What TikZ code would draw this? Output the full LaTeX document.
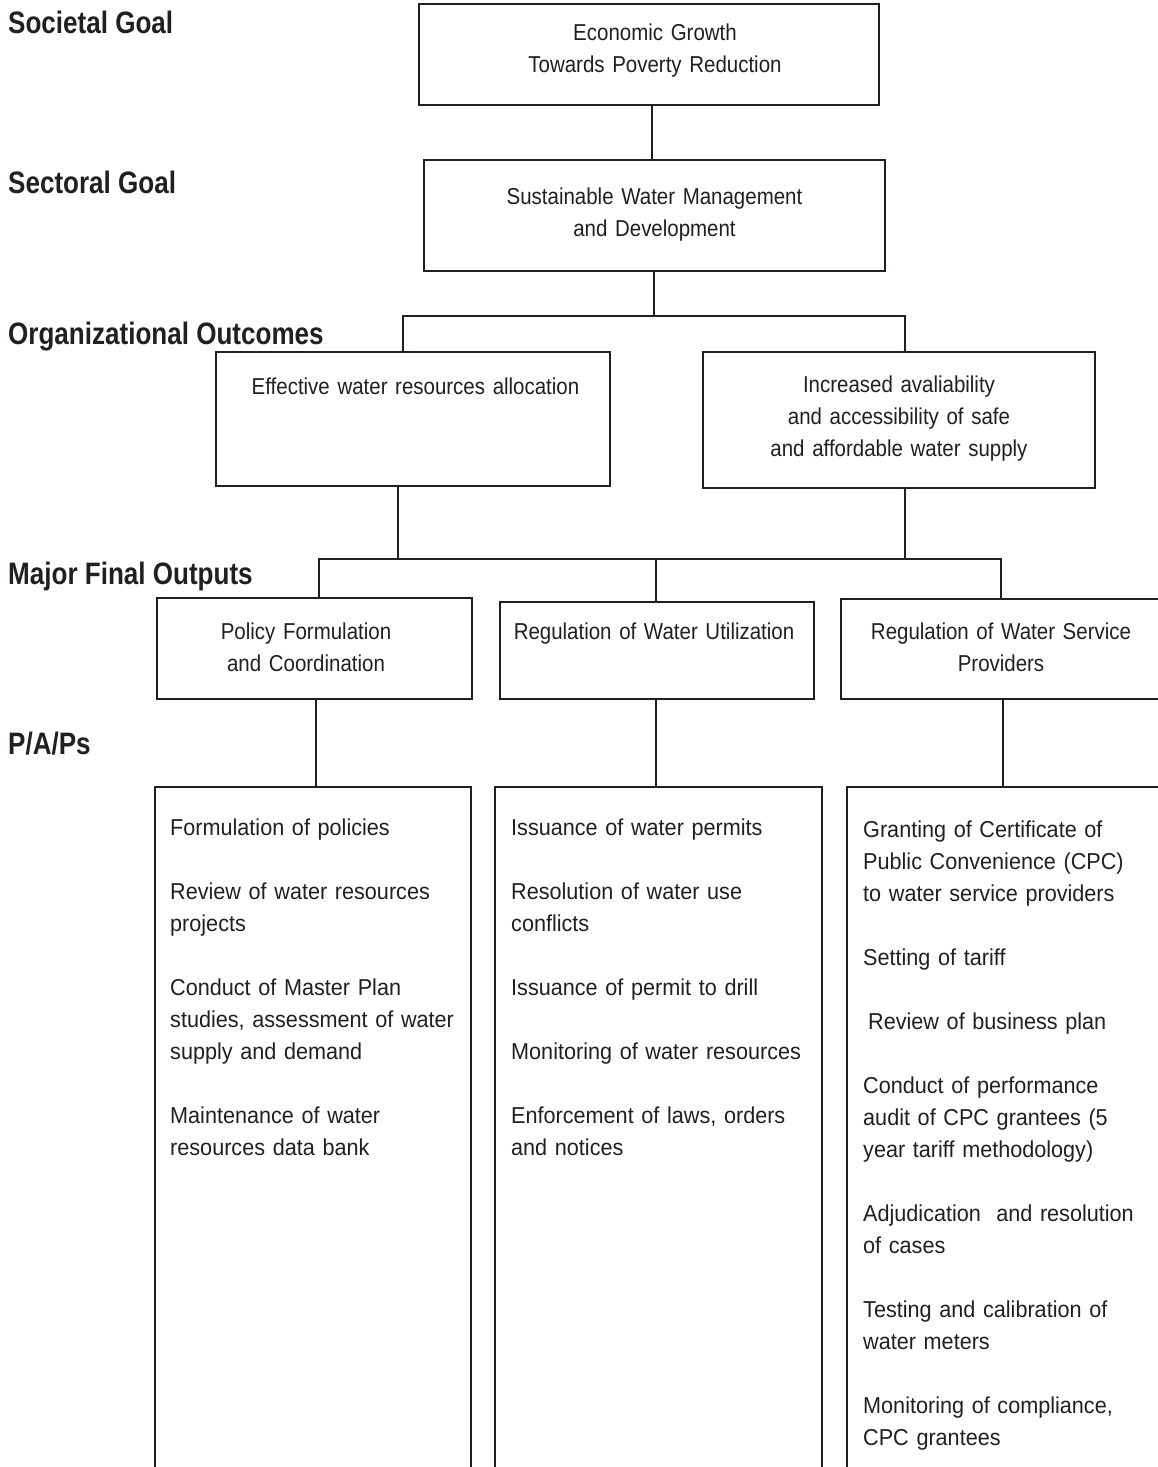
\documentclass[tikz,border=0pt]{standalone}
\usepackage{fontspec}
\setmainfont{Liberation Sans}
\newfontfamily\lblfont[FakeStretch=0.84]{Liberation Sans}
\newfontfamily\boxfont[FakeStretch=0.89]{Liberation Sans}
\newfontfamily\itemfont[FakeStretch=0.94]{Liberation Sans}
\definecolor{ink}{HTML}{231F20}
\tikzset{
  box/.style={draw=ink, line width=1.3pt, rectangle, inner sep=0pt},
  conn/.style={draw=ink, line width=1.1pt},
  lbl/.style={anchor=base west, inner sep=0pt, text=ink, font=\lblfont\bfseries\fontsize{31}{36}\selectfont},
  btxt/.style={anchor=base, inner sep=0pt, text=ink, align=center, text width=420pt, font=\boxfont\fontsize{23}{32}\selectfont},
  itxt/.style={anchor=base west, inner sep=0pt, text=ink, align=left, text width=420pt, font=\itemfont\fontsize{23}{32}\selectfont}
}
\begin{document}
\begin{tikzpicture}[x=1pt,y=-1pt]
\useasboundingbox[fill=white] (0,0) rectangle (1158,1467);

% level labels
\node[lbl] (lsoc) at (8,33) {Societal Goal};
\node[lbl] (lsec) at (8,193) {Sectoral Goal};
\node[lbl] (lorg) at (8,344) {Organizational Outcomes};
\node[lbl] (lmfo) at (8,584) {Major Final Outputs};
\node[lbl] (lpap) at (8,754) {P/A/Ps};

% boxes
\node[box, minimum width=460pt, minimum height=101pt] (b1) at (649,54.5) {};
\node[box, minimum width=461pt, minimum height=111pt] (b2) at (654.5,215.5) {};
\node[box, minimum width=394pt, minimum height=134pt] (b3) at (413,419) {};
\node[box, minimum width=392pt, minimum height=136pt] (b4) at (899,420) {};
\node[box, minimum width=315pt, minimum height=101pt] (b5) at (314.5,648.5) {};
\node[box, minimum width=314pt, minimum height=97pt] (b6) at (657,650.5) {};
\node[box, minimum width=329pt, minimum height=100pt] (b7) at (1005.5,649) {};
\node[box, minimum width=316pt, minimum height=693pt] (b8) at (313,1133.5) {};
\node[box, minimum width=327pt, minimum height=693pt] (b9) at (658.5,1133.5) {};
\node[box, minimum width=323pt, minimum height=693pt] (b10) at (1008.5,1133.5) {};

% box texts
\node[btxt] (t1) at (655,40) {Economic Growth\\Towards Poverty Reduction};
\node[btxt] (t2) at (654.5,204) {Sustainable Water Management\\and Development};
\node[btxt] (t3) at (415.5,394) {Effective water resources allocation};
\node[btxt] (t4) at (899,392) {Increased avaliability\\and accessibility of safe\\and affordable water supply};
\node[btxt] (t5) at (306,639) {Policy Formulation\\and Coordination};
\node[btxt] (t6) at (654,639) {Regulation of Water Utilization};
\node[btxt] (t7) at (1001,639) {Regulation of Water Service\\Providers};

% item lists
\node[itxt] (i8) at (170,835) {Formulation of policies\\[32pt]
Review of water resources\\projects\\[32pt]
Conduct of Master Plan\\studies, assessment of water\\supply and demand\\[32pt]
Maintenance of water\\resources data bank};
\node[itxt] (i9) at (511,835) {Issuance of water permits\\[32pt]
Resolution of water use\\conflicts\\[32pt]
Issuance of permit to drill\\[32pt]
Monitoring of water resources\\[32pt]
Enforcement of laws, orders\\and notices};
\node[itxt] (i10) at (863,837) {Granting of Certificate of\\Public Convenience (CPC)\\to water service providers\\[32pt]
Setting of tariff\\[32pt]
\hspace*{5pt}Review of business plan\\[32pt]
Conduct of performance\\audit of CPC grantees (5\\year tariff methodology)\\[32pt]
Adjudication\ \ and resolution\\of cases\\[32pt]
Testing and calibration of\\water meters\\[32pt]
Monitoring of compliance,\\CPC grantees};

% connectors
\coordinate (j1) at (654,316);
\coordinate (j2) at (656,559);
\draw[conn] ([xshift=3pt]b1.south) -- ([xshift=3pt]b1.south |- b2.north);
\draw[conn] (b2.south -| j1) -- (j1);
\draw[conn] (j1) -| ([xshift=-10pt]b3.north);
\draw[conn] (j1) -| ([xshift=6pt]b4.north);
\draw[conn] ([xshift=-15pt]b3.south) |- (j2);
\draw[conn] ([xshift=6pt]b4.south) |- (j2);
\draw[conn] (j2) -| ([xshift=4.5pt]b5.north);
\draw[conn] (j2) -- (j2 |- b6.north);
\draw[conn] (j2) -| ([xshift=-4.5pt]b7.north);
\draw[conn] ([xshift=1.5pt]b5.south) -- ([xshift=1.5pt]b5.south |- b8.north);
\draw[conn] ([xshift=-1pt]b6.south) -- ([xshift=-1pt]b6.south |- b9.north);
\draw[conn] ([xshift=-2.5pt]b7.south) -- ([xshift=-2.5pt]b7.south |- b10.north);
\end{tikzpicture}
\end{document}
